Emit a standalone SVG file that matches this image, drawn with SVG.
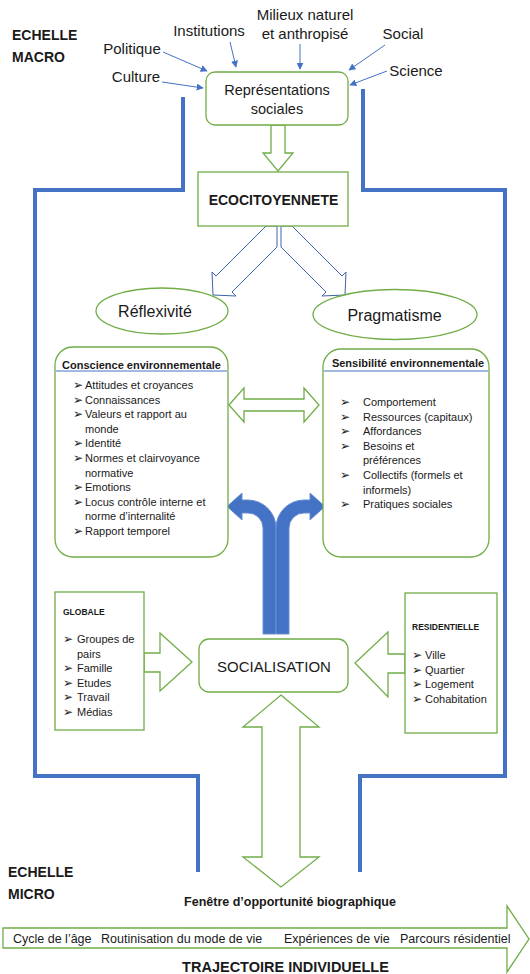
<svg xmlns="http://www.w3.org/2000/svg" width="530" height="974" viewBox="0 0 530 974">
<defs>
<marker id="ah" viewBox="0 0 10 10" refX="9" refY="5" markerWidth="7" markerHeight="7" orient="auto-start-reverse" markerUnits="userSpaceOnUse">
<path d="M0,0 L10,5 L0,10 Z" fill="#4472C4"/>
</marker>
<style>
text{font-family:"Liberation Sans",Arial,sans-serif;fill:#1a1a1a}
.g{fill:#fff;stroke:#70AD47;stroke-width:1.3}
.bo{fill:none;stroke:#4472C4;stroke-width:4}
.bd{fill:#fff;stroke:#3E64AA;stroke-width:1}
.bf{fill:#4472C4;stroke:#6C8FD2;stroke-width:1}
.sa{stroke:#4472C4;stroke-width:1;fill:none;marker-end:url(#ah)}
.t15{font-size:15px}
.it{font-size:11px}
.bl{font-family:"DejaVu Sans",sans-serif;font-size:12px}
.hb{font-weight:bold}
.sep{stroke:#4472C4;stroke-width:1}
</style>
</defs>

<g id="frame">
<path class="bo" d="M183,97 V190 H35 V776 H198 V872"/>
<path class="bo" d="M363,89 V190 H505 V776 H360 V872"/>
</g>

<g id="scale-labels">
<text class="hb" x="12" y="40" font-size="14">ECHELLE</text>
<text class="hb" x="12" y="62" font-size="14">MACRO</text>
<text class="hb" x="8" y="877" font-size="14">ECHELLE</text>
<text class="hb" x="8" y="899" font-size="14">MICRO</text>
</g>

<g id="influences">
<text class="t15" x="305" y="20" text-anchor="middle">Milieux naturel</text>
<text class="t15" x="305" y="39" text-anchor="middle">et anthropisé</text>
<text class="t15" x="209" y="36" text-anchor="middle">Institutions</text>
<text class="t15" x="132" y="54" text-anchor="middle">Politique</text>
<text class="t15" x="136" y="82" text-anchor="middle">Culture</text>
<text class="t15" x="403" y="39" text-anchor="middle">Social</text>
<text class="t15" x="416" y="76" text-anchor="middle">Science</text>
</g>

<g id="connectors">
<line class="sa" x1="163" y1="52" x2="207" y2="71"/>
<line class="sa" x1="230" y1="42" x2="236" y2="67"/>
<line class="sa" x1="300" y1="44" x2="300" y2="69"/>
<line class="sa" x1="385" y1="45" x2="349" y2="70"/>
<line class="sa" x1="162" y1="82" x2="203" y2="88"/>
<line class="sa" x1="387" y1="71" x2="350" y2="85"/>
<polygon class="g" points="271,125 285,125 285,153 293,153 278,171 263,153 271,153"/>
<polygon class="bd" points="266,226 216,276 212,272 213,295 236,296 232,292 277,247 277,226"/>
<polygon class="bd" points="292,226 342,276 346,272 345,295 322,296 326,292 281,247 281,226"/>
<polygon class="g" points="229,405 244,388 244,399 304,399 304,388 319,405 304,422 304,411 244,411 244,422"/>
<path class="bf" d="M263,634 V528 A15,15 0 0 0 248,513 H242 V520 L227,506.5 L242,493 V500 H248 A28,28 0 0 1 276,528 V634 Z"/>
<path class="bf" d="M289,634 V528 A15,15 0 0 1 304,513 H310 V520 L325,506.5 L310,493 V500 H304 A28,28 0 0 0 276,528 V634 Z"/>
<polygon class="g" points="144,653 160,653 160,633 192,662 160,691 160,672 144,672"/>
<polygon class="g" points="405,654 388,654 388,632 355,663 388,697 388,673 405,673"/>
<polygon class="g" points="281,695 319,727 300,727 300,857 319,857 281,887 243,857 262,857 262,727 243,727"/>
</g>

<g id="representations">
<rect class="g" x="206" y="72" width="142" height="53" rx="9"/>
<text x="277" y="95" font-size="14.5" text-anchor="middle">Représentations</text>
<text x="277" y="114" font-size="14.5" text-anchor="middle">sociales</text>
</g>

<g id="ecocitoyennete">
<rect class="g" x="198" y="172" width="150" height="54"/>
<text class="hb" x="273.5" y="205" font-size="14" text-anchor="middle">ECOCITOYENNETE</text>
</g>

<g id="reflexivite">
<ellipse class="g" cx="162" cy="311" rx="66" ry="23"/>
<text x="155" y="317" font-size="16" text-anchor="middle">Réflexivité</text>
</g>

<g id="pragmatisme">
<ellipse class="g" cx="395" cy="314.5" rx="82" ry="25"/>
<text x="394.5" y="321" font-size="16" text-anchor="middle">Pragmatisme</text>
</g>

<g id="conscience">
<rect class="g" x="55" y="347" width="173" height="210" rx="18"/>
<line class="sep" x1="56" y1="371" x2="227" y2="371"/>
<text class="hb" x="141.5" y="369" font-size="11" text-anchor="middle">Conscience environnementale</text>
<g class="bl">
<text x="73" y="389">➢</text><text x="73" y="403.6">➢</text><text x="73" y="418.2">➢</text>
<text x="73" y="447.4">➢</text><text x="73" y="462">➢</text><text x="73" y="491.2">➢</text>
<text x="73" y="505.8">➢</text><text x="73" y="535">➢</text>
</g>
<g class="it">
<text x="85" y="389">Attitudes et croyances</text>
<text x="85" y="403.6">Connaissances</text>
<text x="85" y="418.2">Valeurs et rapport au</text>
<text x="85" y="432.8">monde</text>
<text x="85" y="447.4">Identité</text>
<text x="85" y="462">Normes et clairvoyance</text>
<text x="85" y="476.6">normative</text>
<text x="85" y="491.2">Emotions</text>
<text x="85" y="505.8">Locus contrôle interne et</text>
<text x="85" y="520.4">norme d’internalité</text>
<text x="85" y="535">Rapport temporel</text>
</g>
</g>

<g id="sensibilite">
<rect class="g" x="323" y="349" width="166" height="208" rx="18"/>
<line class="sep" x1="324" y1="371" x2="488" y2="371"/>
<text class="hb" x="408" y="367" font-size="11" text-anchor="middle">Sensibilité environnementale</text>
<g class="bl">
<text x="340" y="406">➢</text><text x="340" y="420.6">➢</text><text x="340" y="435.2">➢</text>
<text x="340" y="449.8">➢</text><text x="340" y="479">➢</text><text x="340" y="508.2">➢</text>
</g>
<g class="it">
<text x="363" y="406">Comportement</text>
<text x="363" y="420.6">Ressources (capitaux)</text>
<text x="363" y="435.2">Affordances</text>
<text x="363" y="449.8">Besoins et</text>
<text x="363" y="464.4">préférences</text>
<text x="363" y="479">Collectifs (formels et</text>
<text x="363" y="493.6">informels)</text>
<text x="363" y="508.2">Pratiques sociales</text>
</g>
</g>

<g id="globale">
<rect class="g" x="55" y="592" width="89" height="138"/>
<text class="hb" x="63" y="615" font-size="8.5">GLOBALE</text>
<g class="bl">
<text x="63" y="643">➢</text><text x="63" y="672.2">➢</text><text x="63" y="686.8">➢</text>
<text x="63" y="701.4">➢</text><text x="63" y="716">➢</text>
</g>
<g class="it">
<text x="77" y="643">Groupes de</text>
<text x="77" y="657.6">pairs</text>
<text x="77" y="672.2">Famille</text>
<text x="77" y="686.8">Etudes</text>
<text x="77" y="701.4">Travail</text>
<text x="77" y="716">Médias</text>
</g>
</g>

<g id="residentielle">
<rect class="g" x="405" y="593" width="92" height="140"/>
<text class="hb" x="412" y="630" font-size="8.5">RESIDENTIELLE</text>
<g class="bl">
<text x="412" y="659">➢</text><text x="412" y="673.6">➢</text><text x="412" y="688.2">➢</text><text x="412" y="702.8">➢</text>
</g>
<g class="it">
<text x="425" y="659">Ville</text>
<text x="425" y="673.6">Quartier</text>
<text x="425" y="688.2">Logement</text>
<text x="425" y="702.8">Cohabitation</text>
</g>
</g>

<g id="socialisation">
<rect class="g" x="199" y="639" width="149" height="53" rx="10"/>
<text x="274" y="671.5" font-size="15" text-anchor="middle">SOCIALISATION</text>
</g>

<g id="fenetre">
<text class="hb" x="290" y="906" font-size="12.5" text-anchor="middle">Fenêtre d’opportunité  biographique</text>
</g>

<g id="trajectoire">
<polygon class="g" points="3,928 507,928 507,906 529,939 507,972 507,948 3,948"/>
<text x="13" y="942.5" font-size="12.5">Cycle de l’âge</text>
<text x="101" y="942.5" font-size="12.5">Routinisation du mode de vie</text>
<text x="284" y="942.5" font-size="12.5">Expériences de vie</text>
<text x="400" y="942.5" font-size="12.5">Parcours résidentiel</text>
<text class="hb" x="285.5" y="972" font-size="14.5" text-anchor="middle">TRAJECTOIRE INDIVIDUELLE</text>
</g>
</svg>
